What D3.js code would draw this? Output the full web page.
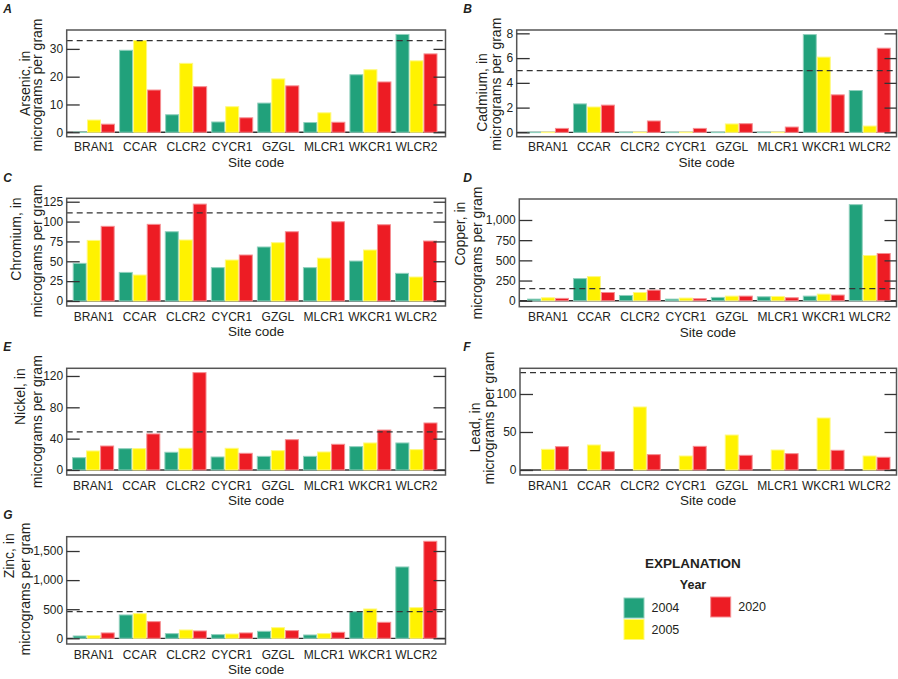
<!DOCTYPE html>
<html><head><meta charset="utf-8">
<script src="https://cdn.jsdelivr.net/npm/d3@7/dist/d3.min.js"></script>
<style>
body{margin:0;background:#fff;}
svg text{font-family:"Liberation Sans",Arial,sans-serif;fill:#231f20;}
</style></head><body>
<svg id="chart" width="898" height="679"></svg>
<script>
// ---------- DATA ----------
const sites = ["BRAN1","CCAR","CLCR2","CYCR1","GZGL","MLCR1","WKCR1","WLCR2"];
const years = ["2004","2005","2020"];
const yearColors = ["#21a17b","#fff200","#ed1c24"];

const arsenic2004 = [0,29.5,6.3,3.7,10.5,3.5,20.7,35.2];
const arsenic2005 = [4.4,33.0,24.8,9.2,19.2,7.0,22.5,25.7];
const arsenic2020 = [2.9,15.2,16.4,5.2,16.7,3.6,18.1,28.2];

const cadmium2004 = [0,2.3,0,0,0,0,7.9,3.38];
const cadmium2005 = [0,2.05,0,0,0.68,0,6.08,0.51];
const cadmium2020 = [0.32,2.2,0.92,0.32,0.7,0.43,3.03,6.8];

const chromium2004 = [47.4,36,87.2,42,68,42,50.3,34.8];
const chromium2005 = [76.3,32.7,76.8,51.6,73.4,54,64.2,30.2];
const chromium2020 = [94,96.5,122,57.9,87.2,99.8,96,75.5];

const copper2004 = [20,274,65,20,41,49,57,1190];
const copper2005 = [37,299,102,33,57,53,82,560];
const copper2020 = [29,102,131,25,57,37,70,585];

const nickel2004 = [15.7,27.2,22.6,16.6,17.4,17.4,29.8,34.5];
const nickel2005 = [24.3,27.2,27.7,27.7,24.7,23,34.5,26];
const nickel2020 = [30.6,46,124.3,21.3,38.7,32.8,51,60];

const lead2004 = [null,null,null,null,null,null,null,null];
const lead2005 = [27.2,32.9,82.9,18.4,46,26.3,68.4,18.4];
const lead2020 = [30.7,24.1,20.2,31.1,19.3,21.5,25.9,16.7];

const zinc2004 = [40,401,80,63,120,57,458,1226];
const zinc2005 = [46,424,143,74,183,80,504,527];
const zinc2020 = [92,286,126,92,132,103,275,1667];

// probable effect concentrations (dashed lines)
const guideValues = [33, 4.98, 111, 149, 48.6, 128, 459];
const panelLetters = ["A","B","C","D","E","F","G"];
const elementNames = ["Arsenic","Cadmium","Chromium","Copper","Nickel","Lead","Zinc"];
const tickSets = [
  [0,10,20,30],
  [0,2,4,6,8],
  [0,25,50,75,100,125],
  [0,250,500,750,1000],
  [0,40,80,120],
  [0,50,100],
  [0,500,1000,1500]
];
const seriesSets = [
  [arsenic2004,arsenic2005,arsenic2020],
  [cadmium2004,cadmium2005,cadmium2020],
  [chromium2004,chromium2005,chromium2020],
  [copper2004,copper2005,copper2020],
  [nickel2004,nickel2005,nickel2020],
  [lead2004,lead2005,lead2020],
  [zinc2004,zinc2005,zinc2020]
];

// ---------- LAYOUT ----------
const layouts = [
  {left:66.7, top:30, right:445.5, bottom:136.7, xr:[73,437.5], dom:[-1.6,36.8], lx:3.3, ly:13,
   t1:[25,83.3], t2:[37.5,85]},
  {left:516.7, top:30, right:896.5, bottom:136.7, xr:[527,890.7], dom:[-0.35,8.27], lx:463.3, ly:13,
   t1:[481.7,92.5], t2:[495.7,84.2]},
  {left:66.7, top:198.3, right:445.5, bottom:306, xr:[72.7,437], dom:[-6.3,129.3], lx:3.3, ly:181.7,
   t1:[16,239], t2:[36.7,251]},
  {left:519.3, top:199, right:896.5, bottom:306.7, xr:[527,890.7], dom:[-74,1260], lx:463.3, ly:181.7,
   t1:[460.5,233.6], t2:[477,253]},
  {left:66.7, top:368.3, right:445.5, bottom:475, xr:[72,437.5], dom:[-6.4,129.8], lx:3.3, ly:350.7,
   t1:[20,396.7], t2:[36.7,421.7]},
  {left:520, top:368.3, right:896.5, bottom:475, xr:[527,890.5], dom:[-6.6,133.8], lx:463.3, ly:350.7,
   t1:[475,427.5], t2:[489,418]},
  {left:66.7, top:536.7, right:445.5, bottom:644, xr:[72.7,437.3], dom:[-98,1746], lx:3.3, ly:519,
   t1:[9,555.8], t2:[25.3,589]}
];

const svg = d3.select("#chart");
const fmt = d3.format(",");
const lighten = c => d3.interpolateRgb(c, "#ffffff")(0.5);

layouts.forEach((p, i) => {
  const g = svg.append("g");
  const y = d3.scaleLinear().domain(p.dom).range([p.bottom, p.top]);
  const x = d3.scaleBand().domain(sites).range(p.xr).paddingInner(0.088).paddingOuter(0);
  const xs = d3.scaleBand().domain(years).range([0, x.bandwidth()]);

  // zero baseline
  g.append("line").attr("x1", p.left).attr("x2", p.right)
    .attr("y1", y(0)).attr("y2", y(0)).attr("stroke", "#333").attr("stroke-width", 1.3);

  const rows = [];
  seriesSets[i].forEach((arr, k) => arr.forEach((v, j) => {
    if (v !== null) rows.push({site: sites[j], year: years[k], color: yearColors[k], v});
  }));

  g.selectAll("rect.bar").data(rows.filter(d => d.v > 0)).join("rect")
    .attr("class", "bar")
    .attr("x", d => x(d.site) + xs(d.year) + 0.5)
    .attr("width", xs.bandwidth() - 1)
    .attr("y", d => y(d.v))
    .attr("height", d => y(0) - y(d.v))
    .attr("fill", d => d.color)
    .attr("stroke", d => lighten(d.color))
    .attr("stroke-width", 1);

  g.selectAll("line.zero").data(rows.filter(d => d.v === 0)).join("line")
    .attr("class", "zero")
    .attr("x1", d => x(d.site) + xs(d.year))
    .attr("x2", d => x(d.site) + xs(d.year) + xs.bandwidth())
    .attr("y1", y(0)).attr("y2", y(0))
    .attr("stroke", d => lighten(d.color)).attr("stroke-width", 1.5);

  // guideline
  g.append("line").attr("x1", p.left).attr("x2", p.right)
    .attr("y1", y(guideValues[i])).attr("y2", y(guideValues[i]))
    .attr("stroke", "#333").attr("stroke-width", 1.3).attr("stroke-dasharray", "6,4");

  // frame
  g.append("rect").attr("x", p.left).attr("y", p.top)
    .attr("width", p.right - p.left).attr("height", p.bottom - p.top)
    .attr("fill", "none").attr("stroke", "#555").attr("stroke-width", 1.5);

  // left axis
  const la = g.append("g").attr("transform", `translate(${p.left},0)`)
    .call(d3.axisLeft(y).tickValues(tickSets[i]).tickSize(-13).tickPadding(3.5).tickFormat(fmt));
  la.select(".domain").remove();
  la.selectAll(".tick line").attr("stroke", "#333").attr("stroke-width", 1.3);
  la.selectAll("text").attr("font-size", 12).attr("font-family", null);

  // right axis
  const ra = g.append("g").attr("transform", `translate(${p.right},0)`)
    .call(d3.axisRight(y).tickValues(tickSets[i]).tickSize(-12).tickFormat(""));
  ra.select(".domain").remove();
  ra.selectAll(".tick line").attr("stroke", "#333").attr("stroke-width", 1.3);

  // x axis labels
  const xa = g.append("g").attr("transform", `translate(0,${p.bottom})`)
    .call(d3.axisBottom(x).tickSize(0).tickPadding(6));
  xa.select(".domain").remove();
  xa.selectAll("text").attr("font-size", 12).attr("font-family", null);

  g.append("text").attr("x", (p.left + p.right) / 2).attr("y", p.bottom + 30)
    .attr("text-anchor", "middle").attr("font-size", 13.5).text("Site code");

  // y title
  g.append("text").attr("transform", `translate(${p.t1[0]},${p.t1[1]}) rotate(-90)`)
    .attr("text-anchor", "middle").attr("dy", "0.35em").attr("font-size", 14)
    .text(elementNames[i] + ", in");
  g.append("text").attr("transform", `translate(${p.t2[0]},${p.t2[1]}) rotate(-90)`)
    .attr("text-anchor", "middle").attr("dy", "0.35em").attr("font-size", 14)
    .text("micrograms per gram");

  // panel letter
  g.append("text").attr("x", p.lx).attr("y", p.ly)
    .attr("font-size", 12).attr("font-weight", "bold").attr("font-style", "italic")
    .text(panelLetters[i]);
});

// ---------- LEGEND ----------
const lg = svg.append("g");
lg.append("text").attr("x", 693).attr("y", 568).attr("text-anchor", "middle")
  .attr("font-size", 13.5).attr("font-weight", "bold").text("EXPLANATION");
lg.append("text").attr("x", 693).attr("y", 589).attr("text-anchor", "middle")
  .attr("font-size", 12.5).attr("font-weight", "bold").text("Year");
const legendPos = [[624,598],[624,619.5],[710.7,597]];
years.forEach((yr, k) => {
  lg.append("rect").attr("x", legendPos[k][0]).attr("y", legendPos[k][1])
    .attr("width", 20).attr("height", 20)
    .attr("fill", yearColors[k]).attr("stroke", lighten(yearColors[k])).attr("stroke-width", 1);
  lg.append("text").attr("x", legendPos[k][0] + 27.5).attr("y", legendPos[k][1] + 10)
    .attr("dy", "0.35em").attr("font-size", 12.5).text(yr);
});
</script>
</body></html>
